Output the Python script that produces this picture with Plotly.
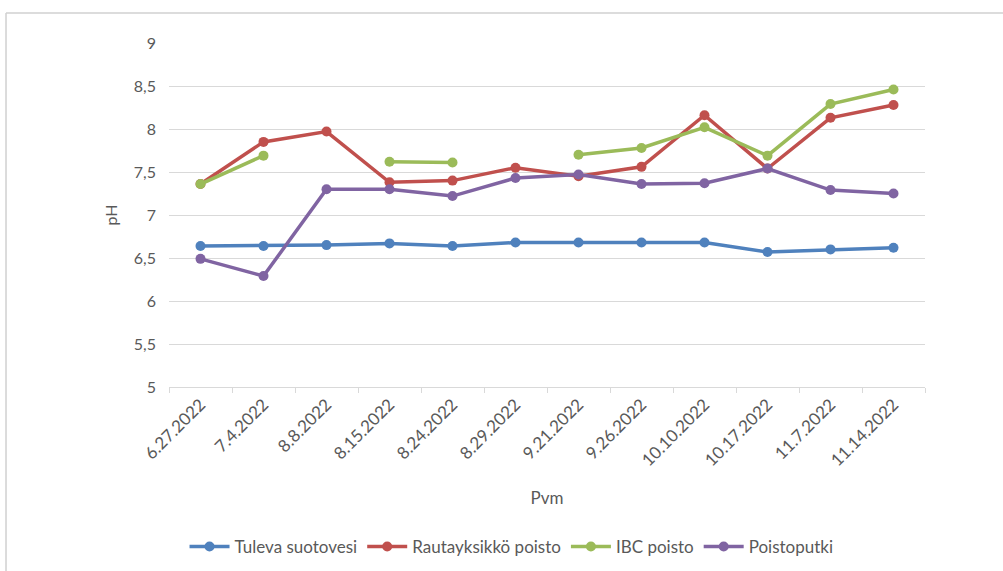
import plotly.graph_objects as go

dates = ["6.27.2022", "7.4.2022", "8.8.2022", "8.15.2022", "8.24.2022", "8.29.2022",
         "9.21.2022", "9.26.2022", "10.10.2022", "10.17.2022", "11.7.2022", "11.14.2022"]
tuleva = [6.64, 6.64, 6.65, 6.67, 6.64, 6.68, 6.68, 6.68, 6.68, 6.57, 6.60, 6.62]
rauta = [7.36, 7.85, 7.97, 7.38, 7.40, 7.55, 7.45, 7.56, 8.16, 7.54, 8.13, 8.28]
ibc = [7.36, 7.69, None, 7.62, 7.61, None, 7.70, 7.78, 8.02, 7.69, 8.29, 8.46]
poisto = [6.49, 6.29, 7.30, 7.30, 7.22, 7.43, 7.47, 7.36, 7.37, 7.54, 7.29, 7.25]

series = [
    ("Tuleva suotovesi", tuleva, "#4F81BD"),
    ("Rautayksikkö poisto", rauta, "#C0504D"),
    ("IBC poisto", ibc, "#9BBB59"),
    ("Poistoputki", poisto, "#8064A2"),
]

fig = go.Figure()
for name, vals, col in series:
    fig.add_trace(go.Scatter(
        x=dates, y=vals, name=name, mode="lines+markers",
        line=dict(color=col, width=3.5),
        marker=dict(color=col, size=10),
        connectgaps=False,
    ))

font = "Lato, 'Open Sans', sans-serif"
fig.update_layout(
    width=1003, height=571,
    margin=dict(l=169, r=78, t=43, b=184),
    paper_bgcolor="white", plot_bgcolor="white",
    separators=", ",
    font=dict(family=font, color="#595959", size=14),
    showlegend=True,
    legend=dict(orientation="h", xref="container", x=0.51, xanchor="center",
                yref="container", y=0.042, yanchor="middle",
                font=dict(size=17, color="#595959"), itemwidth=40, tracegroupgap=0),
    xaxis=dict(
        type="category", range=[-0.5, len(dates) - 0.5], automargin=False,
        showgrid=False, showline=True, linecolor="#D9D9D9", linewidth=1,
        ticks="outside", tickson="boundaries", ticklen=5, tickcolor="#D9D9D9",
        tickangle=-45, tickfont=dict(size=17, color="#595959"),
        title=dict(text="Pvm", font=dict(size=17, color="#595959"), standoff=22),
    ),
    yaxis=dict(
        range=[5, 9], dtick=0.5, automargin=False,
        showgrid=True, gridcolor="#D9D9D9", gridwidth=1,
        zeroline=False, showline=False, ticks="", tickfont=dict(size=16, color="#595959"),
        ticklabelstandoff=12,
        title=dict(text="pH", font=dict(size=16, color="#595959"), standoff=12),
    ),
)

# outer chart border (top and left edges visible)
fig.add_shape(type="line", xref="paper", yref="paper", x0=-0.2156, x1=1.2, y0=1.0872, y1=1.0872,
              line=dict(color="#D0D0D0", width=1.5))
fig.add_shape(type="line", xref="paper", yref="paper", x0=-0.2156, x1=-0.2156, y0=1.0872, y1=-0.6,
              line=dict(color="#D0D0D0", width=1.5))

fig.write_html("out.html")
